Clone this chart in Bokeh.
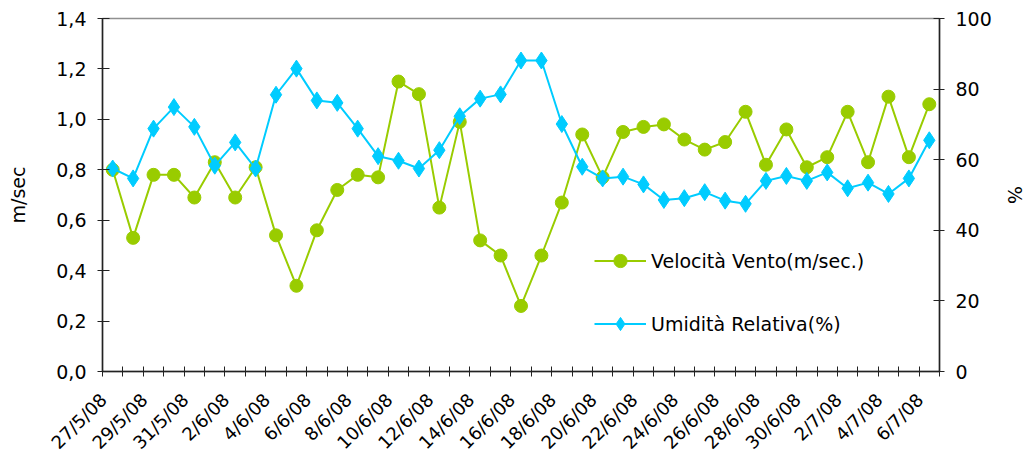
import math
from bokeh.plotting import figure
from bokeh.models import (Range1d, LinearAxis, FixedTicker, CustomJSTickFormatter,
                          ColumnDataSource, Legend, LegendItem)
from bokeh.embed import file_html
from bokeh.resources import INLINE

dates = ["27/5/08", "28/5/08", "29/5/08", "30/5/08", "31/5/08", "1/6/08", "2/6/08",
         "3/6/08", "4/6/08", "5/6/08", "6/6/08", "7/6/08", "8/6/08", "9/6/08",
         "10/6/08", "11/6/08", "12/6/08", "13/6/08", "14/6/08", "15/6/08", "16/6/08",
         "17/6/08", "18/6/08", "19/6/08", "20/6/08", "21/6/08", "22/6/08", "23/6/08",
         "24/6/08", "25/6/08", "26/6/08", "27/6/08", "28/6/08", "29/6/08", "30/6/08",
         "1/7/08", "2/7/08", "3/7/08", "4/7/08", "5/7/08", "6/7/08"]

vento = [0.80, 0.53, 0.78, 0.78, 0.69, 0.83, 0.69, 0.81, 0.54, 0.34, 0.56,
         0.72, 0.78, 0.77, 1.15, 1.10, 0.65, 0.99, 0.52, 0.46, 0.26, 0.46,
         0.67, 0.94, 0.77, 0.95, 0.97, 0.98, 0.92, 0.88, 0.91, 1.03, 0.82,
         0.96, 0.81, 0.85, 1.03, 0.83, 1.09, 0.85, 1.06]

umidita = [57.5, 54.7, 68.8, 74.9, 69.3, 58.3, 64.9, 57.5, 78.4, 85.8, 76.8,
           76.1, 68.8, 61.0, 59.7, 57.5, 62.7, 72.3, 77.3, 78.5, 88.1, 88.1,
           70.1, 58.0, 54.7, 55.2, 53.0, 48.6, 49.1, 50.8, 48.4, 47.5, 54.0,
           55.4, 54.0, 56.4, 51.9, 53.5, 50.3, 54.7, 65.5]

left_ticks = [0.0, 0.2, 0.4, 0.6, 0.8, 1.0, 1.2, 1.4]
right_ticks = [0, 20, 40, 60, 80, 100]

label_vento = "Velocità Vento(m/sec.)"
label_umidita = "Umidità Relativa(%)"

GREEN = "#99CC00"
BLUE = "#00CCFF"
FONT = "DejaVu Sans"
FS = "19px"
LABEL_SHIFT = 0.45  # rotated labels end slightly left of the category centre

n = len(dates)
xs = list(range(n))

p = figure(width=1030, height=463, output_backend="svg", toolbar_location=None,
           x_range=Range1d(-0.5, n - 0.5), y_range=Range1d(0, 1.4),
           min_border_left=102, min_border_right=91, min_border_top=18,
           min_border_bottom=91, x_axis_location=None, y_axis_location=None)
p.extra_y_ranges = {"hum": Range1d(0, 100)}
p.grid.visible = False
p.outline_line_color = "#909090"
p.outline_line_width = 1.5
p.background_fill_color = "white"
p.border_fill_color = "white"

src = ColumnDataSource(dict(x=xs, v=vento, u=umidita))

g_line = p.line("x", "v", source=src, line_color=GREEN, line_width=2)
g_pts = p.scatter("x", "v", source=src, marker="circle", size=13,
                  fill_color=GREEN, line_color=GREEN)
b_line = p.line("x", "u", source=src, line_color=BLUE, line_width=2,
                y_range_name="hum")
b_pts = p.scatter("x", "u", source=src, marker="diamond", size=17,
                  fill_color=BLUE, line_color=BLUE, y_range_name="hum")

# Bottom axis
label_idx = list(range(0, n, 2))
xaxis = LinearAxis(
    ticker=FixedTicker(ticks=[i - LABEL_SHIFT for i in label_idx],
                       minor_ticks=[i - 0.5 for i in range(n + 1)]),
    formatter=CustomJSTickFormatter(
        args=dict(labels=dates, shift=LABEL_SHIFT),
        code="const i = Math.round(tick + shift); return labels[i] || '';"))
xaxis.major_label_orientation = math.pi / 4
xaxis.major_tick_in = 0
xaxis.major_tick_out = 0
xaxis.minor_tick_in = 5
xaxis.minor_tick_out = 5
xaxis.minor_tick_line_color = "#222222"
xaxis.axis_line_color = "#222222"
xaxis.axis_line_width = 1.5
xaxis.major_label_standoff = 20
xaxis.major_label_text_font = FONT
xaxis.major_label_text_font_size = "18px"
xaxis.major_label_text_color = "black"
p.add_layout(xaxis, "below")

# Left axis
yaxis = LinearAxis(ticker=FixedTicker(ticks=left_ticks),
                   formatter=CustomJSTickFormatter(code="return tick.toFixed(1).replace('.', ',');"),
                   axis_label="m/sec")
yaxis.minor_tick_line_color = None
yaxis.major_tick_in = 7
yaxis.major_tick_out = 5
yaxis.major_tick_line_color = "#222222"
yaxis.axis_line_color = "#222222"
yaxis.axis_line_width = 1.5
yaxis.major_label_standoff = 11
yaxis.major_label_text_font = FONT
yaxis.major_label_text_font_size = FS
yaxis.major_label_text_color = "black"
yaxis.axis_label_text_font = FONT
yaxis.axis_label_text_font_size = FS
yaxis.axis_label_text_font_style = "normal"
yaxis.axis_label_text_color = "black"
yaxis.axis_label_standoff = 24
p.add_layout(yaxis, "left")

# Right axis
raxis = LinearAxis(y_range_name="hum", ticker=FixedTicker(ticks=right_ticks),
                   axis_label="%")
raxis.minor_tick_line_color = None
raxis.major_tick_in = 6
raxis.major_tick_out = 5
raxis.major_tick_line_color = "#222222"
raxis.axis_line_color = "#222222"
raxis.axis_line_width = 1.5
raxis.major_label_standoff = 11
raxis.major_label_text_font = FONT
raxis.major_label_text_font_size = FS
raxis.major_label_text_color = "black"
raxis.axis_label_text_font = FONT
raxis.axis_label_text_font_size = FS
raxis.axis_label_text_font_style = "normal"
raxis.axis_label_text_color = "black"
raxis.axis_label_standoff = 9
p.add_layout(raxis, "right")

legend = Legend(items=[LegendItem(label=label_vento, renderers=[g_line, g_pts]),
                       LegendItem(label=label_umidita, renderers=[b_line, b_pts])],
                location=(492, 31), orientation="vertical",
                glyph_width=52, glyph_height=33, label_height=33,
                label_standoff=5, spacing=30, padding=0, margin=0,
                border_line_color=None, background_fill_alpha=0,
                label_text_font=FONT, label_text_font_size=FS,
                label_text_color="black")
p.add_layout(legend)

open("out.html", "w").write(file_html(p, INLINE))
